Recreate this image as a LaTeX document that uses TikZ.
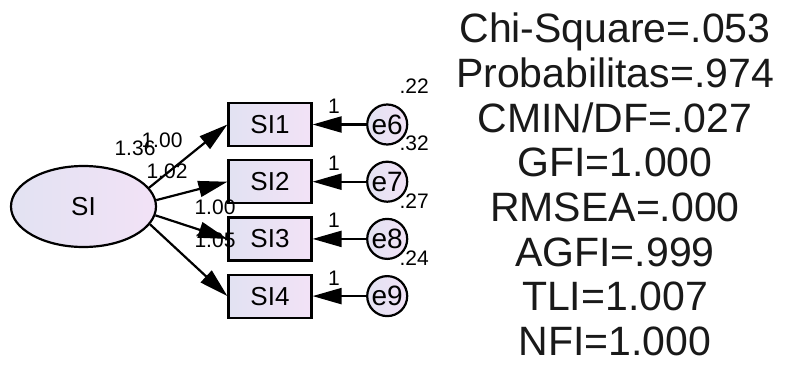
\documentclass[tikz,border=0pt]{standalone}
\usepackage{fontspec}
\setmainfont{Liberation Sans}
\usetikzlibrary{arrows.meta,positioning,shapes.geometric}

\definecolor{lavleft}{RGB}{226,226,242}
\definecolor{lavright}{RGB}{242,226,246}

\begin{document}
\begin{tikzpicture}[x=1pt, y=-1pt,
    latent/.style={ellipse, draw, line width=2.2pt, minimum width=145pt, minimum height=81pt,
      inner sep=0pt, left color=lavleft, right color=lavright, font=\fontsize{26}{26}\selectfont},
    obsbox/.style={rectangle, draw, line width=2.2pt, minimum width=83pt, minimum height=43pt,
      inner sep=0pt, left color=lavleft, right color=lavright, font=\fontsize{26}{26}\selectfont},
    errcirc/.style={circle, draw, line width=2.2pt, minimum size=40pt, inner sep=0pt,
      left color=lavleft, right color=lavright, font=\fontsize{28}{28}\selectfont},
    est/.style={font=\fontsize{21}{21}\selectfont, inner sep=0pt},
    loadarrow/.style={line width=2.2pt, -{Triangle[length=29pt, width=16pt]}},
    fitline/.style={font=\fontsize{41}{41}\selectfont, inner sep=0pt, text=black!90}]
  \useasboundingbox (0,0) rectangle (787,385);
  % latent factor and indicators
  \node[latent] (SI) at (83.5,206.5) {SI};
  \node[obsbox] (SI1) at (270,124.5) {SI1};
  \foreach \i/\j in {2/1,3/2,4/3}
    \node[obsbox, below=12pt of SI\j] (SI\i) {SI\i};
  % error terms
  \foreach \i/\e/\v in {1/6/.22,2/7/.32,3/8/.27,4/9/.24} {
    \node[errcirc, right=53.5pt of SI\i] (e\e) {e\e};
    \node[est] (var\e) at ([xshift=27pt, yshift=38pt]e\e.center) {\v};
    \draw[loadarrow] (e\e) -- (SI\i) node[est, pos=0.6, above=10pt] (w\e) {1};
  }
  % loadings
  \foreach \i/\a in {1/16,2/5,3/-7,4/-15}
    \draw[loadarrow] (SI.\a) -- (SI\i.west);
  \node[est] (varSI) at (135,148) {1.36};
  \node[est] (ld1) at (162,140) {1.00};
  \node[est] (ld2) at (167,171) {1.02};
  \node[est] (ld3) at (215,207) {1.00};
  \node[est] (ld4) at (215,240) {1.05};
  % fit indices
  \foreach \t [count=\k] in {Chi-Square=.053, Probabilitas=.974, CMIN/DF=.027, GFI=1.000,
      RMSEA=.000, AGFI=.999, TLI=1.007, NFI=1.000}
    \node[fitline, anchor=base] (fit\k) at (615,{43+44.6*(\k-1)}) {\t};
\end{tikzpicture}
\end{document}
